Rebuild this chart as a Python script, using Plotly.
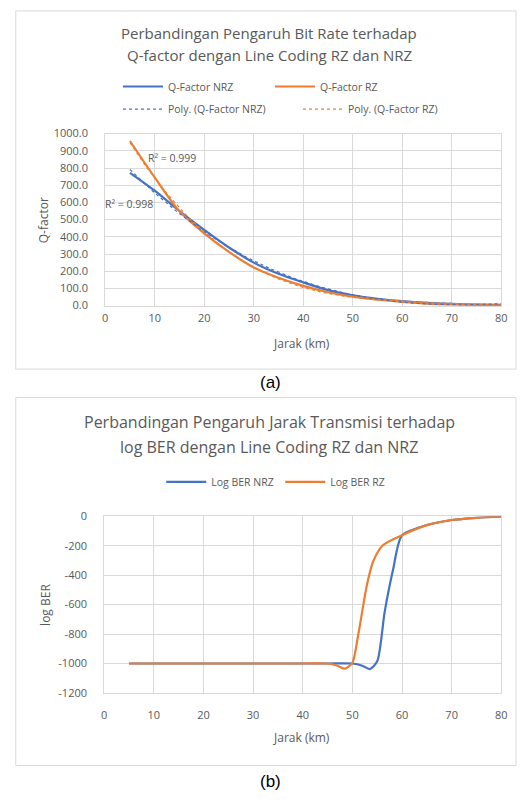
import numpy as np
import plotly.graph_objects as go

W, H = 524, 802

# ---------------- data: chart (a) ----------------
jarak_a = [5, 10, 15, 20, 25, 30, 35, 40, 45, 50, 55, 60, 65, 70, 75, 80]
q_nrz = [772, 668, 550, 440, 338, 250, 185, 135, 90, 60, 40, 26, 16, 10, 6, 4]
q_rz = [957, 745, 548, 420, 312, 222, 162, 115, 78, 52, 34, 22, 12, 7, 4, 2]
r2_nrz = 0.998
r2_rz = 0.999
poly_order = 3

# ---------------- data: chart (b) ----------------
jarak_nrz = [5, 10, 15, 20, 25, 30, 35, 40, 45, 50, 52, 53.5, 55, 56.5, 58.2, 60, 65, 70, 75, 80]
ber_nrz = [-1000, -1000, -1000, -1000, -1000, -1000, -1000, -1000, -1000, -1000,
           -1015, -1038, -985, -651, -362, -129, -60, -25, -10, -3]
jarak_rz = [5, 10, 15, 20, 25, 30, 35, 40, 45, 47, 48.5, 50, 51.2, 52.9, 54.2, 56.2, 60, 65, 70, 75, 80]
ber_rz = [-1000, -1000, -1000, -1000, -1000, -1000, -1000, -1000, -1000, -1015, -1035,
          -995, -800, -470, -305, -195, -128, -60, -25, -10, -3]

x_ticks = [0, 10, 20, 30, 40, 50, 60, 70, 80]
ya_ticks = [0, 100, 200, 300, 400, 500, 600, 700, 800, 900, 1000]
yb_ticks = [0, -200, -400, -600, -800, -1000, -1200]

title_a = ["Perbandingan Pengaruh Bit Rate terhadap", "Q-factor dengan Line Coding RZ dan NRZ"]
title_b = ["Perbandingan Pengaruh Jarak Transmisi terhadap", "log BER dengan Line Coding RZ dan NRZ"]

BLUE = "#4472C4"
ORANGE = "#ED7D31"
GRID = "#d9d9d9"
TXT = "#595959"
FONT = "Open Sans"


def px(x):
    return x / W


def py(y):
    return 1 - y / H


# polynomial trendlines computed from the data
xs = np.linspace(min(jarak_a), max(jarak_a), 200)
fit_nrz = np.polyval(np.polyfit(jarak_a, q_nrz, poly_order), xs)
fit_rz = np.polyval(np.polyfit(jarak_a, q_rz, poly_order), xs)

fig = go.Figure()

# chart (a)
fig.add_trace(go.Scatter(x=jarak_a, y=q_nrz, mode="lines", name="Q-Factor NRZ",
                         line=dict(color=BLUE, width=2.2, shape="spline", smoothing=0.8),
                         xaxis="x", yaxis="y", legend="legend"))
fig.add_trace(go.Scatter(x=jarak_a, y=q_rz, mode="lines", name="Q-Factor RZ",
                         line=dict(color=ORANGE, width=2.2, shape="spline", smoothing=0.8),
                         xaxis="x", yaxis="y", legend="legend"))
fig.add_trace(go.Scatter(x=xs, y=fit_nrz, mode="lines", name="Poly. (Q-Factor NRZ)",
                         line=dict(color=BLUE, width=1.2, dash="dot"),
                         xaxis="x", yaxis="y", legend="legend2"))
fig.add_trace(go.Scatter(x=xs, y=fit_rz, mode="lines", name="Poly. (Q-Factor RZ)",
                         line=dict(color=ORANGE, width=1.2, dash="dot"),
                         xaxis="x", yaxis="y", legend="legend2"))

# chart (b)
fig.add_trace(go.Scatter(x=jarak_nrz, y=ber_nrz, mode="lines", name="Log BER NRZ",
                         line=dict(color=BLUE, width=2.2, shape="spline", smoothing=0.7),
                         xaxis="x2", yaxis="y2", legend="legend3"))
fig.add_trace(go.Scatter(x=jarak_rz, y=ber_rz, mode="lines", name="Log BER RZ",
                         line=dict(color=ORANGE, width=2.2, shape="spline", smoothing=0.7),
                         xaxis="x2", yaxis="y2", legend="legend3"))

axis_common = dict(showgrid=True, gridcolor=GRID, gridwidth=1, showline=True, linecolor=GRID,
                   mirror=True, zeroline=False, ticks="", tickfont=dict(size=11, color=TXT, family=FONT))

leg_common = dict(orientation="h", xanchor="left", yanchor="middle", bgcolor="rgba(0,0,0,0)",
                  font=dict(size=10.5, color=TXT, family=FONT), itemwidth=40, entrywidthmode="pixels",
                  traceorder="normal")

fig.update_layout(
    width=W, height=H,
    margin=dict(l=0, r=0, t=0, b=0),
    paper_bgcolor="white", plot_bgcolor="white",
    font=dict(family=FONT, color=TXT),
    showlegend=True,
    xaxis=dict(domain=[px(104), px(507)], range=[0, 80], tickvals=x_ticks, anchor="y",
               ticklabelstandoff=2, **axis_common),
    yaxis=dict(domain=[py(303.3), py(128)], range=[0, 1000], tickvals=ya_ticks, tickformat=".1f",
               anchor="x", ticklabelstandoff=14, **axis_common),
    xaxis2=dict(domain=[px(103), px(507)], range=[0, 80], tickvals=x_ticks, anchor="y2",
                ticklabelstandoff=12, **axis_common),
    yaxis2=dict(domain=[py(698), py(518)], range=[-1200, 0], tickvals=yb_ticks,
                ticktext=[str(v) for v in yb_ticks], anchor="x2", ticklabelstandoff=14, **axis_common),
    legend=dict(x=px(117), y=py(80), entrywidth=97, **leg_common),
    legend2=dict(x=px(117), y=py(103), entrywidth=125, **leg_common),
    legend3=dict(x=px(161), y=py(483), entrywidth=64, **leg_common),
)

shapes = []
for y0, y1 in [(3, 368), (397, 772)]:
    shapes.append(dict(type="rect", xref="paper", yref="paper", x0=px(13), x1=px(522),
                       y0=py(y1), y1=py(y0), line=dict(color=GRID, width=1), layer="below"))
fig.update_layout(shapes=shapes)


def label(text, x, y, size, color=TXT, angle=0, family=FONT, xref="paper", yref="paper", xanchor="center"):
    return dict(text=text, x=x, y=y, xref=xref, yref=yref, showarrow=False, textangle=angle,
                xanchor=xanchor, yanchor="middle", font=dict(size=size, color=color, family=family))


ann = []
for txt, y in zip(title_a, [25, 48]):
    ann.append(label(txt, px(271), py(y), 15))
for txt, y in zip(title_b, [422, 447]):
    ann.append(label(txt, px(271), py(y), 16))
# axis titles
ann.append(label("Q-factor", px(42), py(216), 12, angle=-90))
ann.append(label("Jarak (km)", px(304), py(342), 12))
ann.append(label("log BER", px(43), py(608), 12, angle=-90))
ann.append(label("Jarak (km)", px(304), py(743), 12))
# R² labels
ann.append(label(f"R² = {r2_rz:.3f}", 8.2, 858, 10.5, xref="x", yref="y", xanchor="left"))
ann.append(label(f"R² = {r2_nrz:.3f}", px(102), 588, 10.5, xref="paper", yref="y", xanchor="left"))
# captions
ann.append(label("(a)", px(272), py(382), 17, color="black", family="Liberation Sans"))
ann.append(label("(b)", px(272), py(788), 17, color="black", family="Liberation Sans"))
fig.update_layout(annotations=ann)

fig.write_html("out.html")
